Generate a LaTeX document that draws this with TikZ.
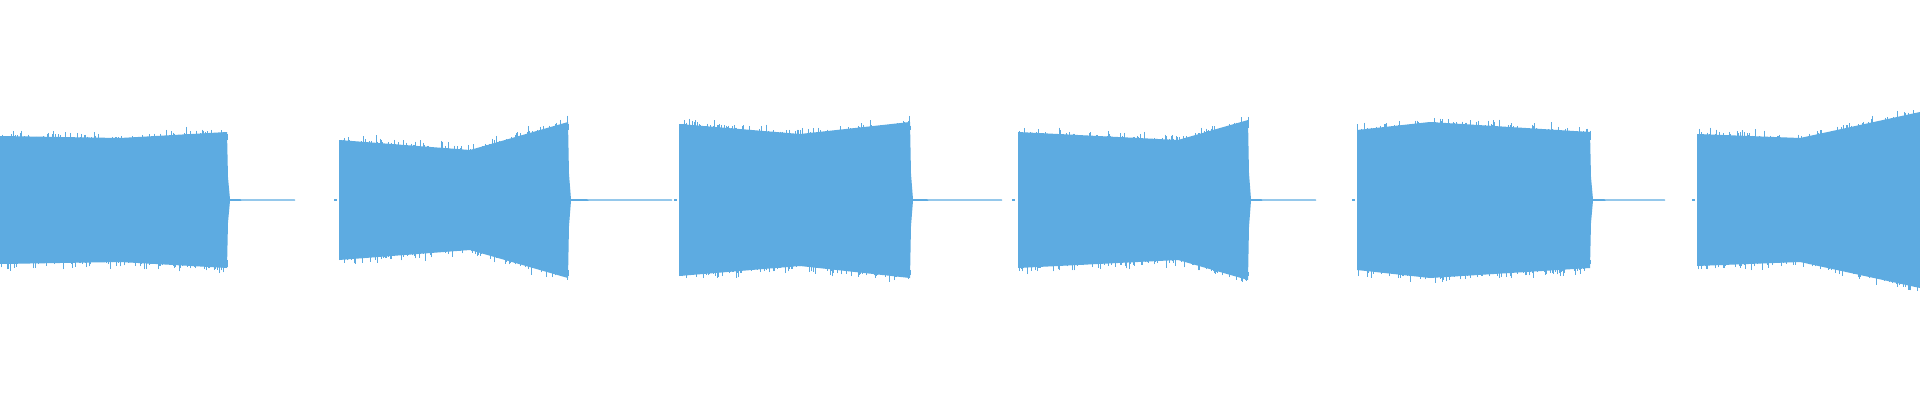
\documentclass[tikz,border=0pt]{standalone}
\usetikzlibrary{calc}
\definecolor{wave}{HTML}{5DABE1}
% one burst: x0, xm, x1, a0, am, a1, end of flat tail
\newcommand\burst[7]{%
  \fill [wave] (#1,200-#4) -- (#2,200-#5) -- (#3,200-#6) -- (#3+1,200-#6/3) -- (#3+3,199.2) -- (#7,199.5)
    -- (#7,200.5) -- (#3+3,200.8) -- (#3+1,200+#6/3) -- (#3,200+#6) -- (#2,200+#5) -- (#1,200+#4) -- cycle;
  \foreach \x in {#1,...,#3} {
    \pgfmathsetmacro\amp{\x<#2 ? #4+(#5-#4)*(\x-#1)/(#2-#1) : #5+(#6-#5)*(\x-#2)/(#3-#2)}
    \pgfmathsetmacro\rt{\amp+12*rnd*rnd-4}
    \pgfmathsetmacro\rb{\amp+12*rnd*rnd-4}
    \draw [wave, line width=0.25pt] (\x,200-\rt) -- (\x,200-\amp+8);
    \draw [wave, line width=0.25pt] (\x,200+\rb) -- (\x,200+\amp-8);
  }
}
\begin{document}
\begin{tikzpicture}[x=0.01cm, y=-0.01cm]
\useasboundingbox (0,0) rectangle (1920,400);
\pgfmathsetseed{7}
\fill [white] (0,0) rectangle (1920,400);
\burst{0}{120}{227}{64}{62}{68}{295}
\burst{339}{470}{568}{60}{50}{78}{672}
\burst{679}{800}{910}{76}{66}{78}{1002}
\burst{1018}{1178}{1248}{68}{60}{80}{1316}
\burst{1357}{1430}{1590}{70}{78}{68}{1665}
\burst{1697}{1800}{1920}{66}{62}{88}{1920}
% lead-in dots
\foreach \x in {334,674,1012,1352,1692}
  \fill [wave] (\x,199.4) rectangle (\x+3,200.6);
\end{tikzpicture}
\end{document}
